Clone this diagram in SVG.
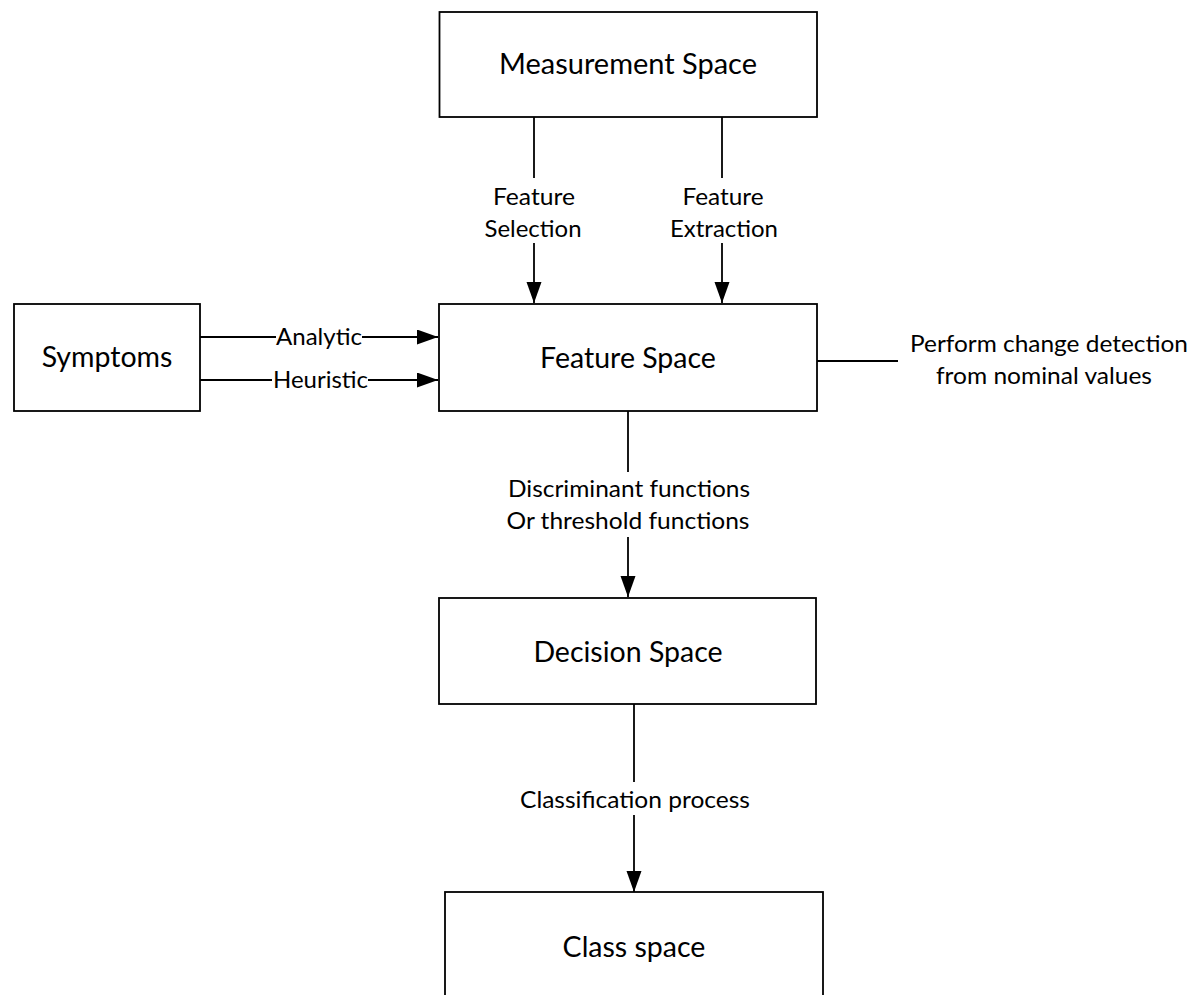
<svg xmlns="http://www.w3.org/2000/svg" width="1193" height="995" viewBox="0 0 1193 995">
<style>
.box{fill:#fff;stroke:#000;stroke-width:1.8}
.ln{fill:none;stroke:#000;stroke-width:1.8}
.nt{font-family:Lato,"Open Sans","Liberation Sans",sans-serif;font-size:28.5px;fill:#000;text-anchor:middle}
.lt{font-family:Lato,"Open Sans","Liberation Sans",sans-serif;font-size:23px;fill:#000;text-anchor:middle}
</style>
<defs>
<marker id="ah" markerUnits="userSpaceOnUse" markerWidth="22" markerHeight="16" refX="21" refY="7.5" orient="auto">
<path d="M0,0 L21,7.5 L0,15 Z" fill="#000"/>
</marker>
</defs>
<rect width="1193" height="995" fill="#fff"/>
<g id="connectors">
<line class="ln" x1="534" y1="117" x2="534" y2="178"/>
<line class="ln" x1="534" y1="243" x2="534" y2="303" marker-end="url(#ah)"/>
<line class="ln" x1="722" y1="117" x2="722" y2="178"/>
<line class="ln" x1="722" y1="243" x2="722" y2="303" marker-end="url(#ah)"/>
<line class="ln" x1="200" y1="337" x2="276" y2="337"/>
<line class="ln" x1="362" y1="337" x2="438" y2="337" marker-end="url(#ah)"/>
<line class="ln" x1="200" y1="380" x2="272" y2="380"/>
<line class="ln" x1="368" y1="380" x2="438" y2="380" marker-end="url(#ah)"/>
<line class="ln" x1="817" y1="361" x2="898" y2="361"/>
<line class="ln" x1="628" y1="411" x2="628" y2="472"/>
<line class="ln" x1="628" y1="537" x2="628" y2="597" marker-end="url(#ah)"/>
<line class="ln" x1="634" y1="704" x2="634" y2="782"/>
<line class="ln" x1="634" y1="815" x2="634" y2="892" marker-end="url(#ah)"/>
<text class="lt" x="534" y="205" textLength="82" lengthAdjust="spacingAndGlyphs">Feature</text>
<text class="lt" x="533" y="237" textLength="97" lengthAdjust="spacingAndGlyphs">Selection</text>
<text class="lt" x="723" y="205" textLength="81" lengthAdjust="spacingAndGlyphs">Feature</text>
<text class="lt" x="724" y="237" textLength="108" lengthAdjust="spacingAndGlyphs">Extraction</text>
<text class="lt" x="319" y="345" textLength="86" lengthAdjust="spacingAndGlyphs">Analytic</text>
<text class="lt" x="320.5" y="388" textLength="95" lengthAdjust="spacingAndGlyphs">Heuristic</text>
<text class="lt" x="1049" y="352" textLength="278" lengthAdjust="spacingAndGlyphs">Perform change detection</text>
<text class="lt" x="1044" y="384" textLength="216" lengthAdjust="spacingAndGlyphs">from nominal values</text>
<text class="lt" x="629" y="497" textLength="242" lengthAdjust="spacingAndGlyphs">Discriminant functions</text>
<text class="lt" x="628" y="529" textLength="243" lengthAdjust="spacingAndGlyphs">Or threshold functions</text>
<text class="lt" x="635" y="808" textLength="230" lengthAdjust="spacingAndGlyphs">Classification process</text>
</g>
<g id="measurement">
<rect class="box" x="439.5" y="12" width="377.5" height="105"/>
<text class="nt" x="628" y="74" textLength="258" lengthAdjust="spacingAndGlyphs">Measurement Space</text>
</g>
<g id="feature">
<rect class="box" x="439" y="304" width="378" height="107"/>
<text class="nt" x="628" y="368">Feature Space</text>
</g>
<g id="symptoms">
<rect class="box" x="14" y="304" width="186" height="107"/>
<text class="nt" x="107" y="367">Symptoms</text>
</g>
<g id="decision">
<rect class="box" x="439" y="598" width="377" height="106"/>
<text class="nt" x="628" y="662">Decision Space</text>
</g>
<g id="class">
<rect class="box" x="445" y="892" width="378" height="120"/>
<text class="nt" x="634" y="957">Class space</text>
</g>
</svg>
